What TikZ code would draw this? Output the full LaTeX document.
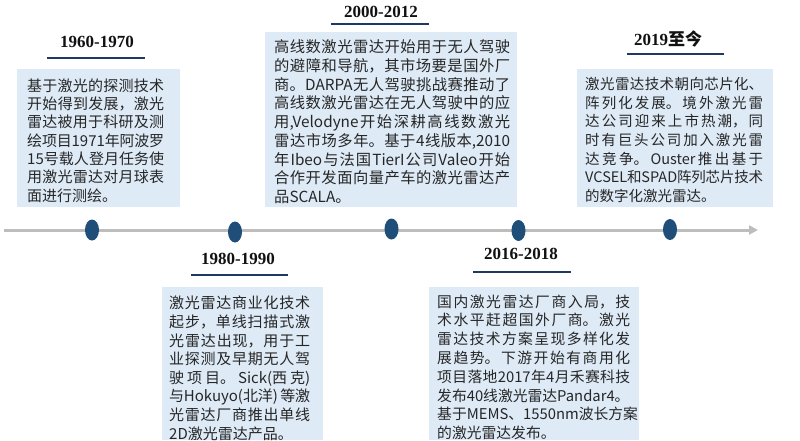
\documentclass[tikz,border=0pt]{standalone}
\usepackage{fontspec}
\setmainfont{Liberation Serif}
\newfontfamily\cjk{Noto Sans CJK SC}
\usetikzlibrary{shapes.geometric,arrows.meta}
\XeTeXlinebreaklocale "zh"
\XeTeXlinebreakskip=0pt plus 2.5pt minus 0.4pt
\definecolor{boxfill}{HTML}{DEEBF7}
\definecolor{navy}{HTML}{1F3864}
\definecolor{dotc}{HTML}{1F4E79}
\definecolor{linec}{HTML}{BDBDBD}
\definecolor{textc}{HTML}{262626}
\definecolor{titlec}{HTML}{111111}
\newcommand\lastline[1]{\makebox[\linewidth][l]{#1}}
\begin{document}
\begin{tikzpicture}[x=1pt,y=-1pt,
  box/.style={fill=boxfill,draw=none,inner sep=0pt,anchor=north west},
  txt/.style={anchor=north west,inner sep=0pt,align=justify,text=textc,
    execute at begin node={\parindent=0pt\tolerance=9999\relax}},
  yeartitle/.style={font=\bfseries\fontsize{17}{20}\selectfont,text=titlec,inner sep=0pt,anchor=center},
  uline/.style={draw=navy,line width=2.6pt},
  tline/.style={draw=linec,line width=3pt,-{Triangle[length=9pt,width=9pt]}},
  dot/.style={ellipse,fill=dotc,draw=none,minimum width=14pt,minimum height=21pt,inner sep=0pt}
]
\useasboundingbox (0,0) rectangle (800,440);

% timeline
\coordinate (tl0) at (4,230);
\coordinate (tl1) at (758,230);
\draw[tline] (tl0) -- (tl1);
\node[dot] (d1) at (92,230) {};
\node[dot] (d2) at (235,232) {};
\node[dot] (d3) at (391.5,229) {};
\node[dot] (d4) at (518.5,230.5) {};
\node[dot] (d5) at (670,229.5) {};

% boxes
\node[box,minimum width=163pt,minimum height=138pt] (b1) at (17,69) {};
\node[box,minimum width=252pt,minimum height=175pt] (b2) at (265,32) {};
\node[box,minimum width=196pt,minimum height=138pt] (b3) at (577,69) {};
\node[box,minimum width=161pt,minimum height=153pt] (b4) at (162,287) {};
\node[box,minimum width=210pt,minimum height=153pt] (b5) at (429,287) {};

% titles
\node[yeartitle] (y1) at (97,42) {1960-1970};
\node[yeartitle] (y2) at (381,12) {2000-2012};
\node[yeartitle] (y3) at (668,39) {2019{\cjk\bfseries 至今}};
\node[yeartitle] (y4) at (238,259) {1980-1990};
\node[yeartitle] (y5) at (521,254) {2016-2018};

% underlines
\coordinate (u1a) at (47,58);  \coordinate (u1b) at (145,58);
\coordinate (u2a) at (331,24); \coordinate (u2b) at (429,24);
\coordinate (u3a) at (627,54); \coordinate (u3b) at (724,54);
\coordinate (u4a) at (191,275); \coordinate (u4b) at (288,275);
\coordinate (u5a) at (473,272); \coordinate (u5b) at (571,272);
\draw[uline] (u1a) -- (u1b);
\draw[uline] (u2a) -- (u2b);
\draw[uline] (u3a) -- (u3b);
\draw[uline] (u4a) -- (u4b);
\draw[uline] (u5a) -- (u5b);

% texts
\node[txt,text width=137pt,font=\cjk\fontsize{15}{18.3}\selectfont] (t1) at (27,78.5) {%
基于激光的探测技术\linebreak
开始得到发展，激光\linebreak
雷达被用于科研及测\linebreak
绘项目1971年阿波罗\linebreak
15号载人登月任务使\linebreak
用激光雷达对月球表\linebreak
面进行测绘。};

\node[txt,text width=236pt,font=\cjk\fontsize{15.3}{18.75}\selectfont] (t2) at (274,39.5) {%
高线数激光雷达开始用于无人驾驶\linebreak
的避障和导航，其市场要是国外厂\linebreak
商。DARPA无人驾驶挑战赛推动了\linebreak
高线数激光雷达在无人驾驶中的应\linebreak
用,Velodyne开始深耕高线数激光\linebreak
雷达市场多年。基于4线版本,2010\linebreak
年Ibeo与法国TierI公司Valeo开始\linebreak
合作开发面向量产车的激光雷达产\linebreak
品SCALA。};

\node[txt,text width=178pt,font=\cjk\fontsize{14.5}{18.7}\selectfont] (t3) at (585,77) {%
激光雷达技术朝向芯片化、\linebreak
阵列化发展。境外激光雷\linebreak
达公司迎来上市热潮，同\linebreak
时有巨头公司加入激光雷\linebreak
达竞争。Ouster推出基于\linebreak
VCSEL和SPAD阵列芯片技术\linebreak
的数字化激光雷达。};

\node[txt,text width=141pt,font=\cjk\fontsize{15}{18.6}\selectfont] (t4) at (169,296) {%
激光雷达商业化技术\linebreak
起步，单线扫描式激\linebreak
光雷达出现，用于工\linebreak
业探测及早期无人驾\linebreak
驶项目。Sick(西克)\linebreak
与Hokuyo(北洋) 等激\linebreak
光雷达厂商推出单线\linebreak
2D激光雷达产品。};

\node[txt,text width=193pt,font=\cjk\fontsize{14.8}{18.8}\selectfont] (t5) at (437,294.5) {%
国内激光雷达厂商入局，技\linebreak
术水平赶超国外厂商。激光\linebreak
雷达技术方案呈现多样化发\linebreak
展趋势。下游开始有商用化\linebreak
项目落地2017年4月禾赛科技\linebreak
\lastline{发布40线激光雷达Pandar4。}\linebreak
\lastline{基于MEMS、1550nm波长方案}\linebreak
的激光雷达发布。};
\end{tikzpicture}
\end{document}
